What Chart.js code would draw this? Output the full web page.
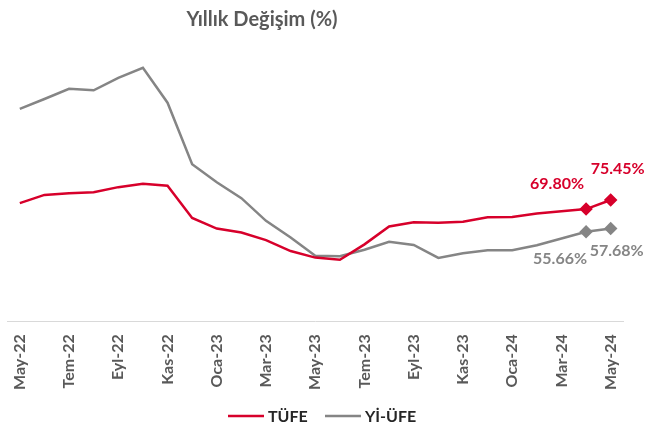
<!DOCTYPE html>
<html><head><meta charset="utf-8">
<script src="https://cdn.jsdelivr.net/npm/chart.js@4/dist/chart.umd.min.js"></script>
<style>html,body{margin:0;padding:0;background:#fff}#w{width:652px;height:430px}</style>
</head><body><div id="w"><canvas id="c" width="652" height="430"></canvas></div>
<script>
const months = ["May-22","Haz-22","Tem-22","Ağu-22","Eyl-22","Eki-22","Kas-22","Ara-22","Oca-23","Şub-23","Mar-23","Nis-23","May-23","Haz-23","Tem-23","Ağu-23","Eyl-23","Eki-23","Kas-23","Ara-23","Oca-24","Şub-24","Mar-24","Nis-24","May-24"];
const tufe = [73.50,78.62,79.60,80.21,83.45,85.51,84.39,64.27,57.68,55.18,50.51,43.68,39.59,38.21,47.83,58.94,61.53,61.36,61.98,64.77,64.86,67.07,68.50,69.80,75.45];
const yiufe = [132.16,138.31,144.61,143.75,151.50,157.69,136.02,97.72,86.46,76.61,62.45,52.11,40.76,40.42,44.50,49.41,47.44,39.37,42.25,44.22,44.20,47.29,51.47,55.66,57.68];
const seriesNames = ["TÜFE","Yİ-ÜFE"];
const title = "Yıllık Değişim (%)";

const RED = "#D7002B", GRAY = "#858585";
const FONT = "Lato, 'Open Sans', sans-serif";
const lastMarks = ctx => ctx.dataIndex >= months.length - 2 ? 5 : 0;

const labelPlugin = {
  id: "endLabels",
  afterDatasetsDraw(chart) {
    const c = chart.ctx;
    const specs = [
      {ds:0, i:23, dx:-2, dy:-25, align:"right", color:RED},
      {ds:0, i:24, dx:7, dy:-31, align:"center", color:RED},
      {ds:1, i:23, dx:1, dy:27, align:"right", color:GRAY},
      {ds:1, i:24, dx:6, dy:22, align:"center", color:GRAY}
    ];
    c.save();
    c.font = "bold 16px " + FONT;
    c.textBaseline = "middle";
    specs.forEach(s => {
      const p = chart.getDatasetMeta(s.ds).data[s.i];
      const v = chart.data.datasets[s.ds].data[s.i];
      c.fillStyle = s.color;
      c.textAlign = s.align;
      c.fillText(v.toFixed(2) + "%", p.x + s.dx, p.y + s.dy);
    });
    // title
    c.font = "bold 20px " + FONT;
    c.fillStyle = "#595959";
    c.textAlign = "center";
    c.fillText(title, 262, 20);
    // legend
    c.font = "bold 16px " + FONT;
    c.textAlign = "left";
    c.lineWidth = 2.5;
    const items = [{x: 228, color: RED, name: seriesNames[0]}, {x: 325, color: GRAY, name: seriesNames[1]}];
    items.forEach(it => {
      c.strokeStyle = it.color;
      c.beginPath(); c.moveTo(it.x, 416); c.lineTo(it.x + 36, 416); c.stroke();
      c.fillStyle = "#262626";
      c.fillText(it.name, it.x + 40, 417);
    });
    c.restore();
  }
};

new Chart(document.getElementById("c"), {
  type: "line",
  data: {
    labels: months,
    datasets: [
      {label: seriesNames[0], data: tufe, borderColor: RED, backgroundColor: RED, borderWidth: 2.5,
       pointStyle: "rectRot", pointRadius: lastMarks, pointHoverRadius: lastMarks, tension: 0},
      {label: seriesNames[1], data: yiufe, borderColor: GRAY, backgroundColor: GRAY, borderWidth: 2.5,
       pointStyle: "rectRot", pointRadius: lastMarks, pointHoverRadius: lastMarks, tension: 0}
    ]
  },
  options: {
    responsive: false,
    animation: false,
    layout: {padding: {left: 7, right: 29, top: 32, bottom: 27}},
    scales: {
      x: {
        offset: true,
        grid: {display: false, drawTicks: false},
        border: {display: true, color: "#D9D9D9", width: 1},
        ticks: {
          autoSkip: false, maxRotation: 90, minRotation: 90, padding: 13,
          color: "#595959", font: {family: FONT, size: 16, weight: "bold"},
          callback: function(v, i) { return i % 2 === 0 ? this.getLabelForValue(v) : ""; }
        }
      },
      y: {display: false, min: 0, max: 180}
    },
    plugins: {
      title: {display: false},
      legend: {display: false},
      tooltip: {enabled: false}
    }
  },
  plugins: [labelPlugin]
});
</script>
</body></html>
